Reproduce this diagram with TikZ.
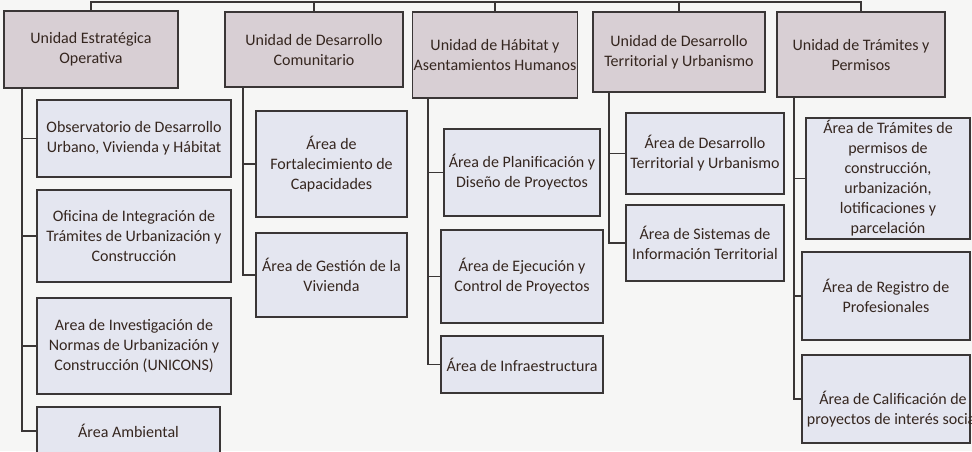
\documentclass[tikz,border=0pt]{standalone}
\usepackage{fontspec}
\setmainfont{Carlito}
\definecolor{bg}{HTML}{F6F6F5}
\definecolor{unitfill}{HTML}{D8CFD4}
\definecolor{areafill}{HTML}{E4E6F0}
\definecolor{edge}{HTML}{3A3636}
\definecolor{ink}{HTML}{35261F}
\tikzset{
  box/.style={draw=edge, line width=1.2pt, inner xsep=1pt, inner ysep=2pt, align=center, text=ink, font=\fontsize{16}{20}\selectfont},
  unitbox/.style={box, fill=unitfill},
  areabox/.style={box, fill=areafill},
  plaintext/.style={align=center, text=ink, font=\fontsize{16}{20}\selectfont, inner sep=0pt},
  link/.style={draw=edge, line width=1.5pt},
}
\begin{document}
\begin{tikzpicture}[x=1pt,y=-1pt]
\useasboundingbox (0,0) rectangle (972,451);
\clip (0,0) rectangle (972,451);
\fill[bg] (0,0) rectangle (972,451);

% units
\node[unitbox, minimum width=174pt, minimum height=77pt] (u1) at (91,49.5) {Unidad Estratégica\\Operativa};
\node[unitbox, minimum width=178pt, minimum height=75pt] (u2) at (314,49.5) {Unidad de Desarrollo\\Comunitario};
\node[unitbox, minimum width=164pt, minimum height=86pt] (u3) at (495,55) {Unidad de Hábitat y\\Asentamientos Humanos};
\node[unitbox, minimum width=172pt, minimum height=80pt] (u4) at (679,52) {Unidad de Desarrollo\\Territorial y Urbanismo};
\node[unitbox, minimum width=168pt, minimum height=85pt] (u5) at (861,54.5) {Unidad de Trámites y\\Permisos};

% column 1
\node[areabox, minimum width=194pt, minimum height=77pt] (a1) at (134,138.5) {Observatorio de Desarrollo\\Urbano, Vivienda y Hábitat};
\node[areabox, minimum width=194pt, minimum height=92pt] (a2) at (134,236) {Oficina de Integración de\\Trámites de Urbanización y\\Construcción};
\node[areabox, minimum width=194pt, minimum height=96pt] (a3) at (134,346) {Area de Investigación de\\Normas de Urbanización y\\Construcción (UNICONS)};
\node[areabox, minimum width=183pt, minimum height=48pt] (a4) at (128.5,431) {Área Ambiental};

% column 2
\node[areabox, minimum width=151pt, minimum height=106pt] (b1) at (331.5,164) {Área de\\Fortalecimiento de\\Capacidades};
\node[areabox, minimum width=151pt, minimum height=84pt] (b2) at (331.5,275) {Área de Gestión de la\\Vivienda};

% column 3
\node[areabox, minimum width=156pt, minimum height=87pt] (c1) at (522,172.5) {Área de Planificación y\\Diseño de Proyectos};
\node[areabox, minimum width=162pt, minimum height=93pt] (c2) at (522,276.5) {Área de Ejecución y\\Control de Proyectos};
\node[areabox, minimum width=162pt, minimum height=57pt] (c3) at (522,364.5) {Área de Infraestructura};

% column 4
\node[areabox, minimum width=158pt, minimum height=81pt] (d1) at (705,153.5) {Área de Desarrollo\\Territorial y Urbanismo};
\node[areabox, minimum width=158pt, minimum height=76pt] (d2) at (705,243) {Área de Sistemas de\\Información Territorial};

% column 5
\node[areabox, minimum width=164pt, minimum height=121pt] (e1) at (888,178.5) {Área de Trámites de\\permisos de\\construcción,\\urbanización,\\lotificaciones y\\parcelación};
\node[areabox, minimum width=168pt, minimum height=88pt] (e2) at (886,296) {Área de Registro de\\Profesionales};
\node[areabox, minimum width=168pt, minimum height=88pt,
      label={[plaintext, xshift=7pt, yshift=-10pt]center:Área de Calificación de\\proyectos de interés social}] (e3) at (886,399) {};

% top bus
\coordinate (bus) at (0,2);
\draw[link] (u1.north) -- (u1.north |- bus) -- (u5.north |- bus) -- (u5.north);
\draw[link] (u2.north) -- (u2.north |- bus);
\draw[link] (u3.north) -- (u3.north |- bus);
\draw[link] (u4.north) -- (u4.north |- bus);

% trunks
\coordinate (t1) at (22,88.6);
\coordinate (t2) at (243,87.6);
\coordinate (t3) at (428,98.6);
\coordinate (t4) at (609,92.6);
\coordinate (t5) at (794,97.6);
\draw[link] (t1) |- (a1.west);
\draw[link] (t1) |- (a2.west);
\draw[link] (t1) |- (a3.west);
\draw[link] (t1) |- (a4.west);
\draw[link] (t2) |- (b1.west);
\draw[link] (t2) |- (b2.west);
\draw[link] (t3) |- (c1.west);
\draw[link] (t3) |- (c2.west);
\draw[link] (t3) |- (c3.west);
\draw[link] (t4) |- (d1.west);
\draw[link] (t4) |- (d2.west);
\draw[link] (t5) |- (e1.west);
\draw[link] (t5) |- (e2.west);
\draw[link] (t5) |- (e3.west);
\end{tikzpicture}
\end{document}
